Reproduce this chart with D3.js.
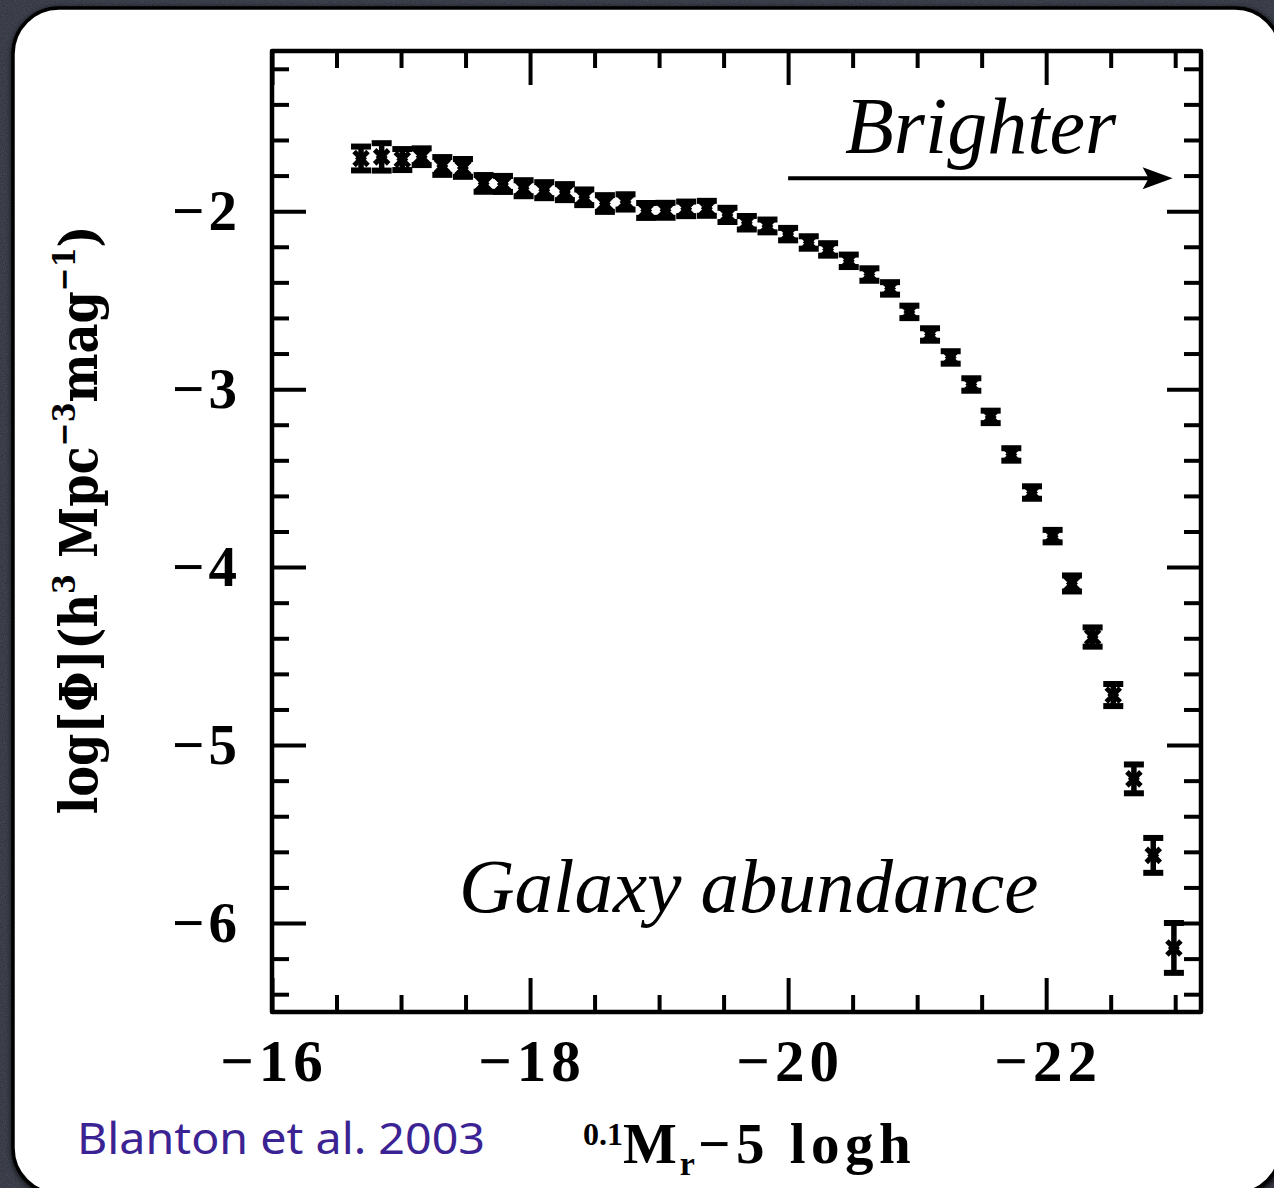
<!DOCTYPE html>
<html>
<head>
<meta charset="utf-8">
<script src="https://cdn.jsdelivr.net/npm/d3@7"></script>
<style>
  html, body { margin: 0; padding: 0; background: #2c2f39; }
  svg { display: block; }
</style>
</head>
<body>
<svg id="chart" width="1274" height="1188"></svg>
<script>
// Absolute magnitude bins, 0.1M_r - 5 log h
const magnitudes = [
  -16.69, -16.85, -17.01, -17.16, -17.32, -17.48, -17.64, -17.79, -17.95, -18.11,
  -18.27, -18.42, -18.58, -18.74, -18.90, -19.05, -19.21, -19.37, -19.53, -19.68,
  -19.84, -20.00, -20.16, -20.31, -20.47, -20.63, -20.79, -20.94, -21.10, -21.26,
  -21.42, -21.57, -21.73, -21.89, -22.05, -22.20, -22.36, -22.52, -22.68, -22.83,
  -22.99
];
// log10 of the luminosity function, h^3 Mpc^-3 mag^-1
const logPhi = [
  -1.704, -1.695, -1.710, -1.694, -1.746, -1.757, -1.844, -1.847, -1.871, -1.882,
  -1.893, -1.922, -1.957, -1.948, -1.996, -1.995, -1.987, -1.984, -2.021, -2.065,
  -2.083, -2.129, -2.176, -2.215, -2.279, -2.356, -2.434, -2.566, -2.693, -2.822,
  -2.974, -3.156, -3.367, -3.581, -3.826, -4.092, -4.393, -4.719, -5.190, -5.620,
  -6.140
];
// 1-sigma uncertainties on logPhi
const logPhiErr = [
  0.067, 0.077, 0.059, 0.047, 0.050, 0.050, 0.047, 0.045, 0.045, 0.045,
  0.045, 0.044, 0.047, 0.043, 0.042, 0.042, 0.041, 0.042, 0.040, 0.038,
  0.036, 0.035, 0.035, 0.035, 0.035, 0.035, 0.035, 0.035, 0.035, 0.035,
  0.035, 0.035, 0.035, 0.035, 0.035, 0.045, 0.054, 0.062, 0.081, 0.098,
  0.140
];
const xMajorTicks = [-16, -18, -20, -22];
const yMajorTicks = [-2, -3, -4, -5, -6];
const xDomain = [-16, -23.2];
const yDomain = [-6.5, -1.1];

const svg = d3.select("#chart");
const W = 1274, H = 1188;

// Grainy dark backdrop
const defs = svg.append("defs");
const grain = defs.append("filter").attr("id", "grain").attr("x", 0).attr("y", 0).attr("width", "100%").attr("height", "100%");
grain.append("feTurbulence").attr("type", "fractalNoise").attr("baseFrequency", 0.9).attr("numOctaves", 2).attr("seed", 3);
grain.append("feColorMatrix").attr("type", "matrix")
  .attr("values", "0 0 0 0 0.23  0 0 0 0 0.25  0 0 0 0 0.32  0 0 0 0.35 0");
const shadow = defs.append("filter").attr("id", "shadow").attr("x", "-5%").attr("y", "-5%").attr("width", "110%").attr("height", "110%");
shadow.append("feGaussianBlur").attr("in", "SourceAlpha").attr("stdDeviation", 3);
shadow.append("feOffset").attr("dx", 1).attr("dy", 2).attr("result", "b");
const merge = shadow.append("feMerge");
merge.append("feMergeNode").attr("in", "b");
merge.append("feMergeNode").attr("in", "SourceGraphic");

svg.append("rect").attr("width", W).attr("height", H).attr("fill", "#2b2e38");
svg.append("rect").attr("width", W).attr("height", H).attr("filter", "url(#grain)");

// White card
svg.append("rect")
  .attr("x", 13).attr("y", 8).attr("width", 1268).attr("height", 1186)
  .attr("rx", 46).attr("ry", 46)
  .attr("fill", "#ffffff").attr("stroke", "#000").attr("stroke-width", 3.5)
  .attr("filter", "url(#shadow)");

// Scales
const x = d3.scaleLinear().domain(xDomain).range([272, 1201]);
const y = d3.scaleLinear().domain(yDomain).range([1012, 51]);

const range = (a, b, s) => d3.range(Math.round((b - a) / s) + 1).map(i => +(a + i * s).toFixed(3));
const xMinor = range(-23, -16, 0.5).filter(v => !xMajorTicks.includes(v));
const yMinor = range(-6.4, -1.2, 0.2).filter(v => !yMajorTicks.some(t => Math.abs(t - v) < 1e-6));

const plot = svg.append("g");
const majorLen = 34, minorLen = 17;

// Inward-pointing ticks on all four sides of the frame
function drawAxis(axisFn, scale, ticks, len, transform) {
  const g = plot.append("g").attr("transform", transform)
    .call(axisFn(scale).tickValues(ticks).tickSizeInner(-len).tickSizeOuter(0).tickFormat(""));
  g.select(".domain").remove();
  g.selectAll(".tick line").attr("stroke", "#000").attr("stroke-width", 4);
  return g;
}
const [x0, x1] = x.range();
const [y0, y1] = y.range();
drawAxis(d3.axisBottom, x, xMajorTicks, majorLen, `translate(0,${y0})`);
drawAxis(d3.axisBottom, x, xMinor, minorLen, `translate(0,${y0})`);
drawAxis(d3.axisTop, x, xMajorTicks, majorLen, `translate(0,${y1})`);
drawAxis(d3.axisTop, x, xMinor, minorLen, `translate(0,${y1})`);
drawAxis(d3.axisLeft, y, yMajorTicks, majorLen, `translate(${x0},0)`);
drawAxis(d3.axisLeft, y, yMinor, minorLen, `translate(${x0},0)`);
drawAxis(d3.axisRight, y, yMajorTicks, majorLen, `translate(${x1},0)`);
drawAxis(d3.axisRight, y, yMinor, minorLen, `translate(${x1},0)`);

plot.append("rect")
  .attr("x", x0).attr("y", y1).attr("width", x1 - x0).attr("height", y0 - y1)
  .attr("fill", "none").attr("stroke", "#000").attr("stroke-width", 4.5)
  .attr("stroke-linejoin", "round");

// Tick labels
const minus = v => (v < 0 ? "\u2212" + Math.abs(v) : String(v));
plot.append("g").selectAll("text").data(xMajorTicks).join("text")
  .attr("x", d => x(d) + 2).attr("y", 1081)
  .attr("text-anchor", "middle")
  .attr("font-family", "'Liberation Serif', serif").attr("font-weight", "bold")
  .attr("font-size", 59).attr("letter-spacing", 5)
  .text(minus);
plot.append("g").selectAll("text").data(yMajorTicks).join("text")
  .attr("x", 241).attr("y", d => y(d) + 19)
  .attr("text-anchor", "end")
  .attr("font-family", "'Liberation Serif', serif").attr("font-weight", "bold")
  .attr("font-size", 57).attr("letter-spacing", 4)
  .text(minus);

// Axis titles
const xt = svg.append("text")
  .attr("x", 583).attr("y", 1163)
  .attr("font-family", "'Liberation Serif', serif").attr("font-weight", "bold")
  .attr("font-size", 57).attr("letter-spacing", 3).attr("fill", "#000");
xt.append("tspan").attr("font-size", 32).attr("dy", -18).attr("letter-spacing", 0).text("0.1");
xt.append("tspan").attr("dy", 18).text("M");
xt.append("tspan").attr("font-size", 34).attr("dy", 12).text("r");
xt.append("tspan").attr("dy", -12).attr("letter-spacing", 5.5).text("\u22125 logh");

const yt = svg.append("text")
  .attr("transform", "translate(97,520) rotate(-90) scale(0.89,1)")
  .attr("text-anchor", "middle")
  .attr("font-family", "'DejaVu Serif', serif").attr("font-weight", "bold")
  .attr("font-size", 52).attr("fill", "#000");
yt.append("tspan").text("log[\u03a6](h");
yt.append("tspan").attr("font-size", 32).attr("dy", -22).text("3");
yt.append("tspan").attr("dy", 22).text(" Mpc");
yt.append("tspan").attr("font-size", 32).attr("dy", -22).text("\u22123");
yt.append("tspan").attr("dy", 22).text("mag");
yt.append("tspan").attr("font-size", 32).attr("dy", -22).text("\u22121");
yt.append("tspan").attr("dy", 22).text(")");

// Data points: error bars with caps and a cross marker
const pts = magnitudes.map((m, i) => ({ m, v: logPhi[i], e: logPhiErr[i] }));
const capHalf = 10, mk = 7;
const marks = plot.append("g").attr("stroke", "#000").attr("fill", "#000");
const pg = marks.selectAll("g").data(pts).join("g")
  .attr("transform", d => `translate(${x(d.m)},${y(d.v)})`);
pg.append("line").attr("x1", 0).attr("x2", 0)
  .attr("y1", d => y(d.v + d.e) - y(d.v)).attr("y2", d => y(d.v - d.e) - y(d.v))
  .attr("stroke-width", 5.5);
pg.append("line").attr("x1", -capHalf).attr("x2", capHalf)
  .attr("y1", d => y(d.v + d.e) - y(d.v)).attr("y2", d => y(d.v + d.e) - y(d.v))
  .attr("stroke-width", 6);
pg.append("line").attr("x1", -capHalf).attr("x2", capHalf)
  .attr("y1", d => y(d.v - d.e) - y(d.v)).attr("y2", d => y(d.v - d.e) - y(d.v))
  .attr("stroke-width", 6);
pg.append("path").attr("d", `M${-mk},${-mk}L${mk},${mk}M${-mk},${mk}L${mk},${-mk}`)
  .attr("stroke-width", 5).attr("fill", "none");
pg.append("path").attr("d", "M0,-6L6,0L0,6L-6,0Z").attr("stroke", "none");

// Annotations
const arrowY = -1.815;
const ax0 = x(-20), ax1 = x(-22.98), ay = y(arrowY);
plot.append("line").attr("x1", ax0).attr("x2", ax1 - 20).attr("y1", ay).attr("y2", ay)
  .attr("stroke", "#000").attr("stroke-width", 4);
plot.append("path")
  .attr("d", `M${ax1},${ay}L${ax1 - 30},${ay - 11}L${ax1 - 24},${ay}L${ax1 - 30},${ay + 11}Z`)
  .attr("fill", "#000");

plot.append("text").attr("x", 845).attr("y", 153)
  .attr("font-family", "'Liberation Serif', serif").attr("font-style", "italic")
  .attr("font-size", 80).attr("fill", "#000").text("Brighter");
plot.append("text").attr("x", 459).attr("y", 912)
  .attr("font-family", "'Liberation Serif', serif").attr("font-style", "italic")
  .attr("font-size", 77).attr("fill", "#000").text("Galaxy abundance");

svg.append("text").attr("x", 77).attr("y", 1154)
  .attr("font-family", "'Noto Sans', sans-serif")
  .attr("font-size", 43).attr("fill", "#3b2394")
  .attr("textLength", 408).attr("lengthAdjust", "spacingAndGlyphs")
  .text("Blanton et al. 2003");
</script>
</body>
</html>
